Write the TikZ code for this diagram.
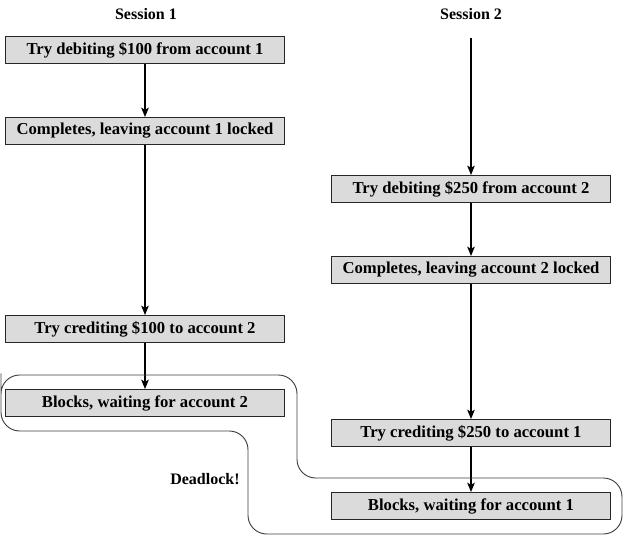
\documentclass[tikz,border=0pt]{standalone}
\usepackage{fontspec}
\setmainfont{Liberation Serif}
\usepackage{tikz}
\usetikzlibrary{positioning, arrows, arrows.meta}
\tikzset{
    >={Stealth[length=7pt, width=5.5pt, inset=1.5pt]}, % makes the arrow heads bold
    x=0.75pt, y=-0.75pt, % one unit is one pixel of the sketch
    action/.style={draw=black!85, fill=gray!28, line width=0.8pt, minimum width=209pt, minimum height=20pt, inner sep=0pt, font=\fontsize{12.5}{14}\bfseries}, % every step of a session
    flow/.style={->, line width=1.4pt}, % the arrows between steps
    title/.style={font=\fontsize{12}{14}\bfseries}, % session headings
}
\def\deadlockpath{(1,392) -- (1,375) -- (297,375) -- (297,478) -- (622,478) -- (622,534) -- (248,534) -- (248,431) -- (1,431) -- cycle}

\begin{document}
\begin{tikzpicture}
        \useasboundingbox (0,0) rectangle (628,540);
        \node[title] (s1) at (146,14) {Session 1};
        \node[title] (s2) at (471,14) {Session 2};
        % session 1
        \node[action] (a1) at (145,50) {Try debiting \$100 from account 1};
        \node[action] (a2) at (145,131) {Completes, leaving account 1 locked};
        \node[action] (a3) at (145,329) {Try crediting \$100 to account 2};
        \node[action] (a4) at (145,403) {Blocks, waiting for account 2};
        % session 2
        \coordinate (b0) at (471,38);
        \node[action] (b1) at (471,189) {Try debiting \$250 from account 2};
        \node[action] (b2) at (471,270) {Completes, leaving account 2 locked};
        \node[action] (b3) at (471,433) {Try crediting \$250 to account 1};
        \node[action] (b4) at (471,506) {Blocks, waiting for account 1};
        \draw[flow] (a1) -- (a2);
        \draw[flow] (a2) -- (a3);
        \draw[flow] (a3) -- (a4);
        \draw[flow] (b0) -- (b1);
        \draw[flow] (b1) -- (b2);
        \draw[flow] (b2) -- (b3);
        \draw[flow] (b3) -- (b4);
        \draw[rounded corners=14pt, line width=0.7pt, black!75] \deadlockpath;
        \node[title] (dl) at (205,479) {Deadlock!};
    \end{tikzpicture}
\end{document}
